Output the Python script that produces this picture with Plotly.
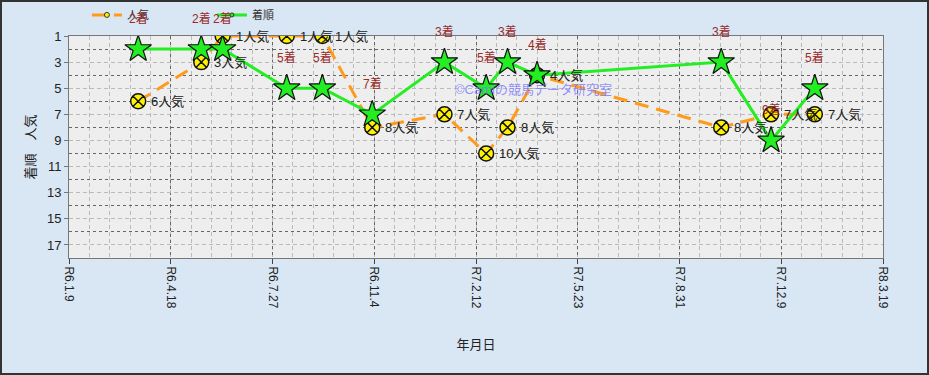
import plotly.graph_objects as go

# ---- data ----
race_dates = ["2024-03-17", "2024-05-18", "2024-06-08", "2024-08-10", "2024-09-14",
              "2024-11-02", "2025-01-12", "2025-02-22", "2025-03-15", "2025-04-13",
              "2025-10-11", "2025-11-29", "2026-01-11"]
finish = [2, 2, 2, 5, 5, 7, 3, 5, 3, 4, 3, 9, 5]
popularity = [6, 3, 1, 1, 1, 8, 7, 10, 8, 4, 8, 7, 7]
tick_dates = ["2024-01-09", "2024-04-18", "2024-07-27", "2024-11-04", "2025-02-12",
              "2025-05-23", "2025-08-31", "2025-12-09", "2026-03-19"]
tick_labels = ["R6.1.9", "R6.4.18", "R6.7.27", "R6.11.4", "R7.2.12",
               "R7.5.23", "R7.8.31", "R7.12.9", "R8.3.19"]
y_ticks = [1, 3, 5, 7, 9, 11, 13, 15, 17]

JP = "Liberation Sans, Arial, Noto Sans CJK JP, sans-serif"
ORANGE = "#FF9A1A"
GREEN = "#22EE22"

fig = go.Figure()
fig.add_trace(go.Scatter(
    x=race_dates, y=popularity, name="人気", mode="lines+markers", showlegend=False,
    line=dict(color=ORANGE, width=3, dash="14px,8px"),
    marker=dict(symbol="circle-x", size=15, color="#FFF200",
                line=dict(color="#111111", width=1.5)),
))
fig.add_trace(go.Scatter(
    x=race_dates, y=finish, name="着順", mode="lines+markers", showlegend=False,
    line=dict(color=GREEN, width=3),
    marker=dict(symbol="star", size=20, color=GREEN,
                line=dict(color="#111111", width=1.2)),
))
# legend entries (small markers like the original legend)
fig.add_trace(go.Scatter(
    x=[None], y=[None], name="人気", mode="lines+markers",
    line=dict(color=ORANGE, width=3, dash="14px,8px"),
    marker=dict(symbol="circle", size=5, color="#FFF200", line=dict(color="#333", width=1)),
))
fig.add_trace(go.Scatter(
    x=[None], y=[None], name="着順", mode="lines+markers",
    line=dict(color=GREEN, width=3),
    marker=dict(symbol="circle", size=4, color=GREEN, line=dict(color="#333", width=1)),
))

annotations = []
for d, f in zip(race_dates, finish):
    annotations.append(dict(x=d, y=f, xref="x", yref="y", text=f"{f}着",
                            showarrow=False, yshift=31,
                            font=dict(size=12, color="#992A2A", family=JP)))
for d, p in zip(race_dates, popularity):
    annotations.append(dict(x=d, y=p, xref="x", yref="y", text=f"{p}人気",
                            showarrow=False, xanchor="left", xshift=11,
                            font=dict(size=13, color="#222222", family=JP)))
annotations.append(dict(x=0.472, y=0.757, xref="paper", yref="paper",
                        text="©Camiの競馬データ研究室", showarrow=False,
                        xanchor="left", yanchor="middle",
                        font=dict(size=13, color="rgba(120,120,255,0.8)", family=JP)))

fig.update_layout(
    width=929, height=375,
    margin=dict(l=69, r=46, t=36, b=117, autoexpand=False),
    paper_bgcolor="#D9E7F5",
    plot_bgcolor="#EEEEEE",
    font=dict(family=JP, color="#222222"),
    showlegend=True,
    legend=dict(orientation="h", x=0.022, y=1.095, xanchor="left", yanchor="middle",
                bgcolor="rgba(0,0,0,0)", font=dict(size=11, color="#333333"),
                itemwidth=30, entrywidth=80, entrywidthmode="pixels", tracegroupgap=0),
    annotations=annotations,
    shapes=[dict(type="rect", xref="paper", yref="paper",
                 x0=-68/814, x1=859/814, y0=-116/222, y1=1 + 35/222,
                 line=dict(color="#333333", width=2), layer="above")],
)

fig.update_xaxes(
    type="date", range=["2024-01-09", "2026-03-19"],
    tickmode="array", tickvals=tick_dates, ticktext=tick_labels,
    tickangle=90, tickfont=dict(size=12, color="#222222"),
    ticks="outside", ticklen=5, tickcolor="#444444",
    showgrid=True, gridcolor="#666666", griddash="dot", gridwidth=1,
    minor=dict(tickmode="linear", tick0="2024-01-09", dtick=20 * 86400000,
               showgrid=True, gridcolor="#BBBBBB", griddash="4px,3px", gridwidth=1,
               ticks=""),
    showline=True, linecolor="#777777", linewidth=1, mirror=True,
    zeroline=False,
    title=dict(text="年月日", font=dict(size=13, color="#222222"), standoff=32),
)
fig.update_yaxes(
    range=[18, 1],
    tickmode="array", tickvals=y_ticks,
    tickfont=dict(size=13, color="#222222"),
    ticks="outside", ticklen=4, tickcolor="#777777",
    showgrid=True, gridcolor="#BBBBBB", griddash="4px,3px", gridwidth=1,
    minor=dict(tickmode="linear", tick0=0, dtick=2,
               showgrid=True, gridcolor="#666666", griddash="dot", gridwidth=1,
               ticks=""),
    showline=True, linecolor="#777777", linewidth=1, mirror=True,
    zeroline=False,
    title=dict(text="着順　人気", font=dict(size=13, color="#222222"), standoff=8),
)

fig.write_html("out.html")
